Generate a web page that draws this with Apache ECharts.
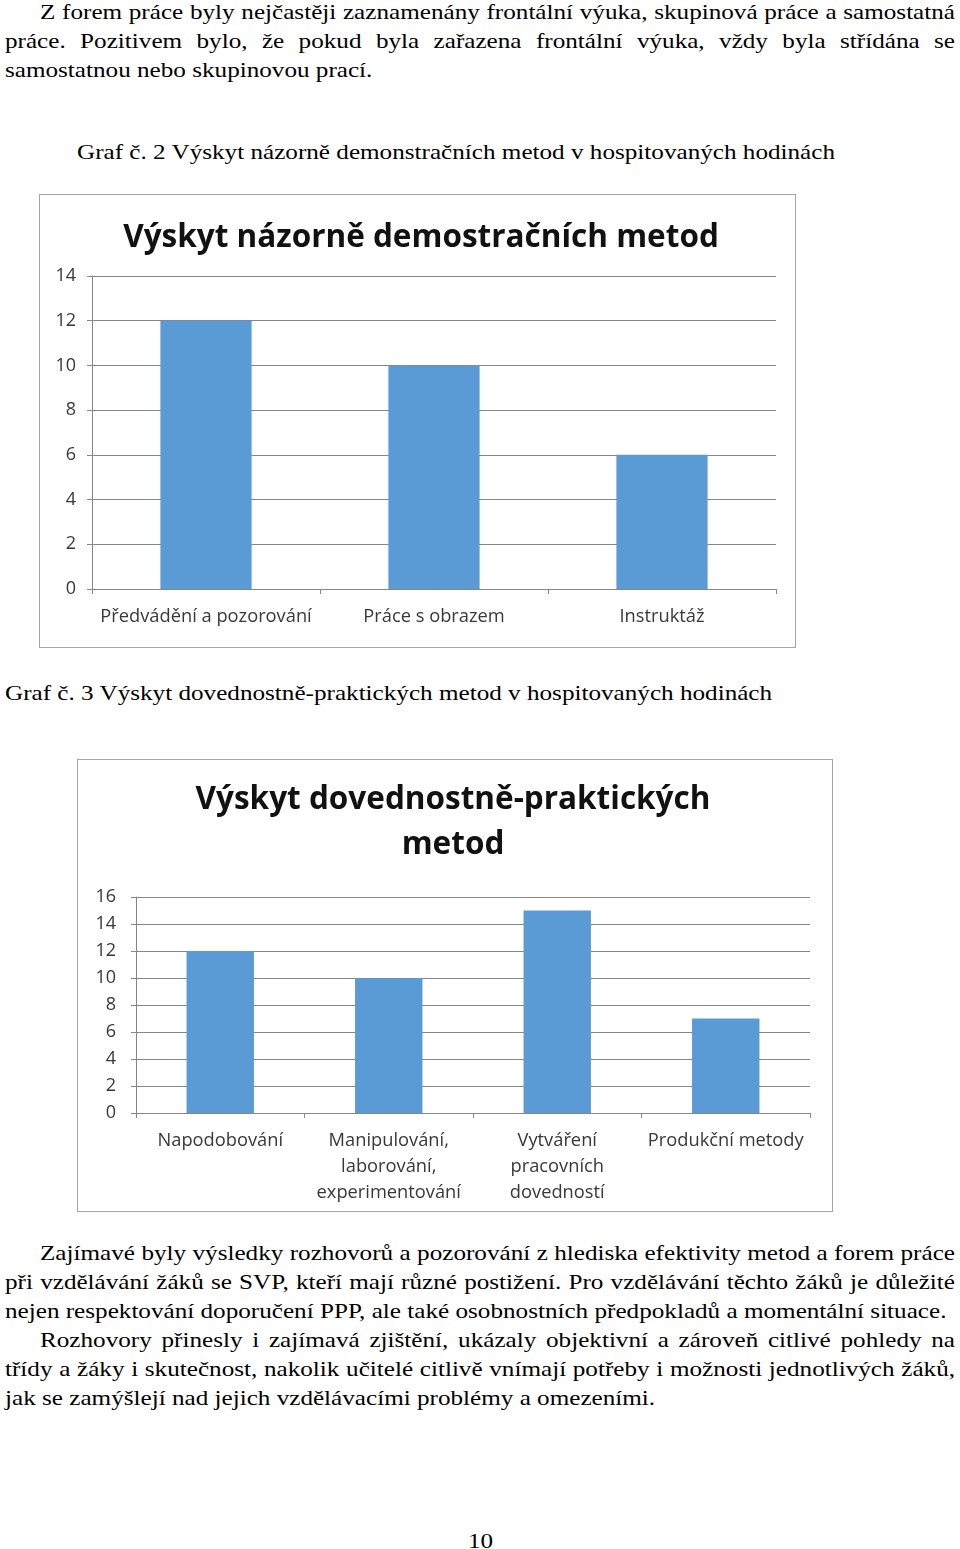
<!DOCTYPE html>
<html>
<head>
<meta charset="utf-8">
<script src="https://cdn.jsdelivr.net/npm/echarts@6/dist/echarts.min.js"></script>
<style>
  html, body { margin:0; padding:0; background:#fff; }
  body { width:960px; height:1549px; position:relative; overflow:hidden; }
  .ln { position:absolute; white-space:pre; font-family:'Liberation Serif','Times New Roman',serif; font-size:21px; line-height:21px; color:#000; transform-origin:0 0; }
  .box { position:absolute; border:1px solid #a6a6a6; box-sizing:border-box; background:#fff; }
  .chart { position:absolute; left:0; top:0; right:0; bottom:0; }
</style>
</head>
<body>
<div class="box" id="box1" style="left:39px; top:194px; width:757px; height:454px;"><div class="chart" id="c1"></div></div>
<div class="box" id="box2" style="left:77px; top:759px; width:756px; height:453px;"><div class="chart" id="c2"></div></div>
<script>
// ---- data ----
const title1 = 'Výskyt názorně demostračních metod';
const categories1 = ['Předvádění a pozorování', 'Práce s obrazem', 'Instruktáž'];
const values1 = [12, 10, 6];

const title2 = 'Výskyt dovednostně-praktických\nmetod';
const categories2 = ['Napodobování', 'Manipulování,\nlaborování,\nexperimentování', 'Vytváření\npracovních\ndovedností', 'Produkční metody'];
const values2 = [12, 10, 15, 7];

// ---- page text ----
const para1 = [
  'Z forem práce byly nejčastěji zaznamenány frontální výuka, skupinová práce a samostatná',
  'práce. Pozitivem bylo, že pokud byla zařazena frontální výuka, vždy byla střídána se',
  'samostatnou nebo skupinovou prací.'
];
const caption1 = 'Graf č. 2 Výskyt názorně demonstračních metod v hospitovaných hodinách';
const caption2 = 'Graf č. 3 Výskyt dovednostně-praktických metod v hospitovaných hodinách';
const para2 = [
  'Zajímavé byly výsledky rozhovorů a pozorování z hlediska efektivity metod a forem práce',
  'při vzdělávání žáků se SVP, kteří mají různé postižení. Pro vzdělávání těchto žáků je důležité',
  'nejen respektování doporučení PPP, ale také osobnostních předpokladů a momentální situace.',
  'Rozhovory přinesly i zajímavá zjištění, ukázaly objektivní a zároveň citlivé pohledy na',
  'třídy a žáky i skutečnost, nakolik učitelé citlivě vnímají potřeby i možnosti jednotlivých žáků,',
  'jak se zamýšlejí nad jejich vzdělávacími problémy a omezeními.'
];
const pageNumber = '10';

// layout of text lines: [text, left, right-edge or null, baseline, justify]
const layout = [
  [para1[0], 40, 955, 18.5, true],
  [para1[1], 5, 955, 47.5, true],
  [para1[2], 5, null, 76.5, false],
  [caption1, 77, null, 158.5, false],
  [caption2, 5, null, 699, false],
  [para2[0], 40, 955, 1259, true],
  [para2[1], 5, 955, 1288, true],
  [para2[2], 5, null, 1317, false],
  [para2[3], 40, 955, 1346, true],
  [para2[4], 5, 955, 1375, true],
  [para2[5], 5, null, 1404, false]
];

function mk(text) {
  const d = document.createElement('div');
  d.className = 'ln';
  d.textContent = text;
  document.body.appendChild(d);
  return d;
}
// horizontal stretch factor from caption 1 (spans 77..835)
const probe = mk(caption1);
const sx = 758 / probe.getBoundingClientRect().width;
probe.remove();
const ascentOff = 16.2;
layout.forEach(([t, x, r, base, just]) => {
  const d = mk(t);
  d.style.left = x + 'px';
  d.style.top = (base - ascentOff) + 'px';
  if (just) {
    const nat = d.getBoundingClientRect().width;
    const n = (t.match(/ /g) || []).length;
    const ws = ((r - x) / sx - nat) / n;
    d.style.wordSpacing = ws + 'px';
  }
  d.style.transform = 'scaleX(' + sx + ')';
});
const pn = mk(pageNumber);
const pw = pn.getBoundingClientRect().width * sx;
pn.style.left = (481 - pw / 2) + 'px';
pn.style.top = (1547 - ascentOff) + 'px';
pn.style.transform = 'scaleX(' + sx + ')';

// ---- charts ----
const gridColor = '#868686';
const labelColor = '#383838';
const barColor = '#5b9bd5';
const font = "'Open Sans', sans-serif";

function makeOption(title, titleX, titleTop, titleLH, cats, vals, maxV, grid, yMargin, xMargin, xLH) {
  return {
    animation: false,
    title: {
      text: title, left: titleX, top: titleTop, textAlign: 'center',
      textStyle: { fontFamily: font, fontWeight: 'bold', fontSize: 31.5, color: '#111', lineHeight: titleLH }
    },
    grid: grid,
    xAxis: {
      type: 'category', data: cats,
      axisLine: { show: true, lineStyle: { color: gridColor, width: 1 } },
      axisTick: { show: true, length: 5, lineStyle: { color: gridColor } },
      axisLabel: { color: labelColor, fontFamily: font, fontSize: 18.3, margin: xMargin, lineHeight: xLH, interval: 0 },
      splitLine: { show: false }
    },
    yAxis: {
      type: 'value', min: 0, max: maxV, interval: 2,
      axisLine: { show: true, lineStyle: { color: gridColor, width: 1 } },
      axisTick: { show: true, length: 5, lineStyle: { color: gridColor } },
      axisLabel: { color: labelColor, fontFamily: font, fontSize: 18, margin: yMargin },
      splitLine: { show: true, lineStyle: { color: gridColor, width: 1 } }
    },
    series: [{
      type: 'bar', data: vals, barWidth: '40%',
      itemStyle: { color: barColor }
    }]
  };
}

const ch1 = echarts.init(document.getElementById('c1'), null, { renderer: 'canvas' });
ch1.setOption(makeOption(title1, 376, 18, 40, categories1, values1, 14,
  { left: 52, top: 81, width: 684, height: 313, containLabel: false }, 16, 18, 20));

const ch2 = echarts.init(document.getElementById('c2'), null, { renderer: 'canvas' });
ch2.setOption(makeOption(title2, 370, 13, 45, categories2, values2, 16,
  { left: 58, top: 137, width: 674, height: 216, containLabel: false }, 20, 15, 26));
</script>
</body>
</html>
